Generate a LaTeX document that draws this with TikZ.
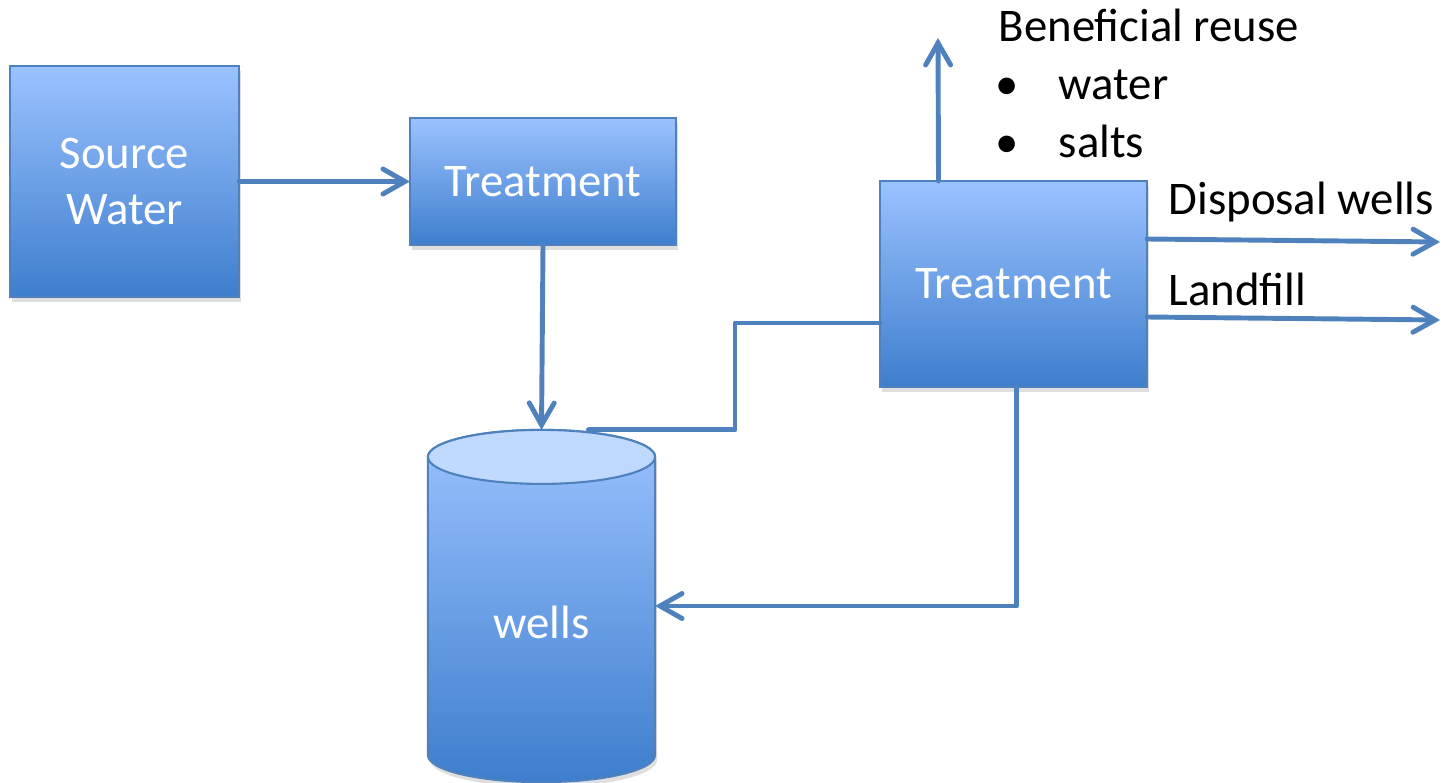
\documentclass[tikz,border=0pt]{standalone}
\usepackage{fontspec}
\setmainfont{Carlito}
\usetikzlibrary{arrows.meta}
\usetikzlibrary{calc}
\usetikzlibrary{positioning}
\usetikzlibrary{shadows}

\definecolor{flowLine}{RGB}{79,129,189}
\definecolor{boxTop}{RGB}{155,194,255}
\definecolor{boxBottom}{RGB}{62,126,205}
\definecolor{boxEdge}{RGB}{79,129,189}
\definecolor{wellCap}{RGB}{192,217,255}

\begin{document}
\begin{tikzpicture}[x=0.01cm,y=-0.01cm,
    unitfill/.style={draw=boxEdge,line width=0.6pt,top color=boxTop,bottom color=boxBottom,
      drop shadow={shadow xshift=0.02cm,shadow yshift=-0.05cm,opacity=0.25}},
    unittext/.style={text=white,font=\fontsize{13.3}{16.2}\selectfont,align=center,
      inner sep=0pt,outer sep=0pt},
    unit/.style={unitfill,unittext},
    flow/.style={draw=flowLine,line width=1.4pt,line cap=round,line join=round},
    flowto/.style={flow,-{Straight Barb[length=0.22cm,width=0.25cm,line cap=round]}},
    caption/.style={font=\fontsize{13.3}{16.2}\selectfont,inner sep=0pt}]

  \useasboundingbox (0,0) rectangle (1443,782);

  \node [unit,minimum width=2.29cm,minimum height=2.31cm] (source) at (124.5,181.5) {Source\\Water};
  \node [unit,minimum width=2.66cm,minimum height=1.27cm] (treat_1) at (543,181.5) {Treatment};
  \node [unit,minimum width=2.67cm,minimum height=2.06cm] (treat_2) at (1013.5,284) {Treatment};

  % the storage, drawn as a cylinder round an empty node
  \node [inner sep=0pt,outer sep=0pt,minimum width=2.27cm,minimum height=3.52cm] (wells) at (541.5,606) {};
  \path [unitfill]
    ($(wells.north west)+(0,27)$) -- ($(wells.south west)+(0,-27)$)
    arc [start angle=180,end angle=360,x radius=1.135cm,y radius=0.27cm]
    -- ($(wells.north east)+(0,27)$)
    arc [start angle=0,end angle=180,x radius=1.135cm,y radius=0.27cm] -- cycle;
  \filldraw [fill=wellCap,draw=boxEdge,line width=0.6pt]
    ($(wells.north)+(0,27)$) ellipse [x radius=1.135cm,y radius=0.27cm];
  \node [unittext] (wells_text) at ($(wells)+(0,16)$) {wells};

  \node [caption,anchor=base west] (reuse)    at (998,42)   {Beneficial reuse};
  \node [caption,anchor=base]      (bullet_1) at (1007,100) {•};
  \node [caption,anchor=base west] (water)    at (1058,100) {water};
  \node [caption,anchor=base]      (bullet_2) at (1007,157) {•};
  \node [caption,anchor=base west] (salts)    at (1058,157) {salts};
  \node [caption,anchor=base west] (disposal) at (1168,215) {Disposal wells};
  \node [caption,anchor=base west] (landfill) at (1168,305) {Landfill};

  \coordinate (reuse_end)    at (938,38);
  \coordinate (disposal_end) at (1440,242);
  \coordinate (landfill_end) at (1440,320);
  \coordinate (riser)        at (735,323);

  \path
    (source)                    edge [flowto] (treat_1)
    (treat_1.south)             edge [flowto] (wells.north)
    ($(treat_2.north)+(-75,0)$) edge [flowto] (reuse_end)
    ($(treat_2.east)+(0,-45)$)  edge [flowto] (disposal_end)
    ($(treat_2.east)+(0,33)$)   edge [flowto] (landfill_end);

  \draw [flow] ($(wells.north)+(47,0)$) -| (riser) -- (riser -| treat_2.west);
  \draw [flowto] ($(treat_2.south)+(3,0)$) |- (wells.east);

\end{tikzpicture}
\end{document}
